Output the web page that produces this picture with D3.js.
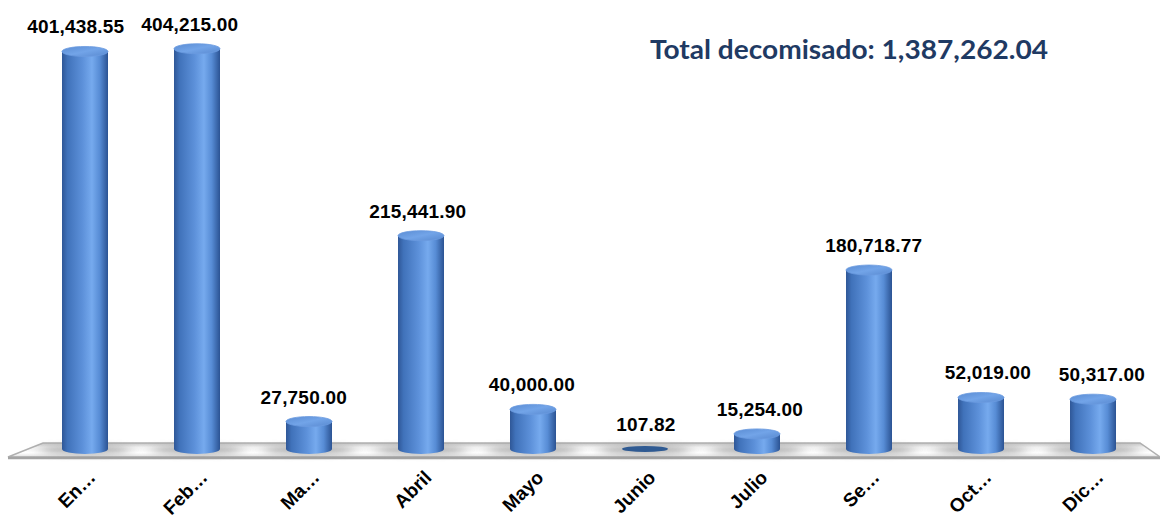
<!DOCTYPE html>
<html>
<head>
<meta charset="utf-8">
<script src="https://cdn.jsdelivr.net/npm/d3@7"></script>
<style>
  html, body { margin: 0; padding: 0; background: #fff; }
  svg { display: block; }
</style>
</head>
<body>
<script>
// datos del grafico
var meses = ["En\u2026", "Feb\u2026", "Ma\u2026", "Abril", "Mayo", "Junio", "Julio", "Se\u2026", "Oct\u2026", "Dic\u2026"];
var valores = [401438.55, 404215.00, 27750.00, 215441.90, 40000.00, 107.82, 15254.00, 180718.77, 52019.00, 50317.00];
var totalTexto = "Total decomisado: 1,387,262.04";

var width = 1160, height = 518;
var baseY = 449, capRy = 5, barRx = 23;

var svg = d3.select("body").append("svg").attr("width", width).attr("height", height);
var defs = svg.append("defs");

var x = d3.scalePoint().domain(meses).range([29, 1149]).padding(0.5);
var y = d3.scaleLinear().domain([0, 410000]).range([baseY, 43]);
var fmt = d3.format(",.2f");

// gradientes
var gBar = defs.append("linearGradient").attr("id", "gBar").attr("x1", 0).attr("x2", 1).attr("y1", 0).attr("y2", 0);
[["0%", "#2f5797"], ["12%", "#4072ba"], ["45%", "#5d91da"], ["65%", "#76aaee"], ["82%", "#578cd5"], ["100%", "#2b5393"]]
  .forEach(function(s) { gBar.append("stop").attr("offset", s[0]).attr("stop-color", s[1]); });

var gCap = defs.append("linearGradient").attr("id", "gCap").attr("x1", 0).attr("x2", 1).attr("y1", 0).attr("y2", 1);
[["0%", "#5a8cd3"], ["50%", "#72a4e8"], ["100%", "#5889d0"]]
  .forEach(function(s) { gCap.append("stop").attr("offset", s[0]).attr("stop-color", s[1]); });

var gFloor = defs.append("linearGradient").attr("id", "gFloor").attr("x1", 0).attr("x2", 0).attr("y1", 0).attr("y2", 1);
[["0%", "#c4c4c4"], ["30%", "#f2f2f2"], ["70%", "#ffffff"], ["100%", "#e0e0e0"]]
  .forEach(function(s) { gFloor.append("stop").attr("offset", s[0]).attr("stop-color", s[1]); });

defs.append("filter").attr("id", "blur").attr("x", "-50%").attr("y", "-200%").attr("width", "200%").attr("height", "500%")
  .append("feGaussianBlur").attr("stdDeviation", "7 3");

// piso 3D
svg.append("path")
  .attr("d", "M43,443 L1140,443 L1160,457 L8,457 Z")
  .style("fill", "url(#gFloor)").style("stroke", "#b0b0b0").style("stroke-width", 1.5);
svg.append("line").attr("x1", 8).attr("y1", 458).attr("x2", 1160).attr("y2", 458)
  .style("stroke", "#a4a4a4").style("stroke-width", 2.5);

// sombras
svg.selectAll(".sombra").data(valores).enter().append("ellipse")
  .attr("class", "sombra")
  .attr("cx", function(d, i) { return x(meses[i]); })
  .attr("cy", baseY + 1)
  .attr("rx", 46).attr("ry", 5)
  .style("fill", "#888").style("opacity", 0.6)
  .attr("filter", "url(#blur)");

// cilindros
var bars = svg.selectAll(".barra").data(valores).enter().append("g").attr("class", "barra");

bars.append("path")
  .attr("d", function(d, i) {
    var cx = x(meses[i]), top = y(d);
    if (baseY - top < 2) return "";
    return "M" + (cx - barRx) + "," + top +
      " L" + (cx - barRx) + "," + baseY +
      " A" + barRx + "," + capRy + " 0 0 0 " + (cx + barRx) + "," + baseY +
      " L" + (cx + barRx) + "," + top + " Z";
  })
  .style("fill", "url(#gBar)");

bars.append("ellipse")
  .attr("cx", function(d, i) { return x(meses[i]); })
  .attr("cy", function(d) { return y(d); })
  .attr("rx", barRx)
  .attr("ry", function(d) { return baseY - y(d) < 2 ? 3 : capRy; })
  .style("fill", function(d) { return baseY - y(d) < 2 ? "#2f5a92" : "url(#gCap)"; })
  .style("stroke", function(d) { return baseY - y(d) < 2 ? "none" : "#6b9be0"; })
  .style("stroke-width", 0.8);

// etiquetas de valor
svg.selectAll(".valor").data(valores).enter().append("text")
  .attr("class", "valor")
  .attr("x", function(d, i) { var cx = x(meses[i]); return cx + (cx - 600) * 0.018; })
  .attr("y", function(d) { return y(d) - capRy - 13; })
  .attr("text-anchor", "middle")
  .style("font-family", "'Liberation Sans', Arial, sans-serif")
  .style("font-weight", "bold").style("font-size", "19px").style("letter-spacing", "0.2px")
  .style("fill", "#000")
  .text(function(d) { return fmt(d); });

// etiquetas de categoria
svg.selectAll(".mes").data(meses).enter().append("text")
  .attr("class", "mes")
  .attr("transform", function(d) { return "translate(" + (x(d) + 2) + ",469) rotate(-45)"; })
  .attr("text-anchor", "end")
  .attr("dy", "0.72em")
  .style("font-family", "'Liberation Sans', Arial, sans-serif")
  .style("font-weight", "bold").style("font-size", "19px")
  .style("fill", "#000")
  .text(function(d) { return d; });

// total
svg.append("text")
  .attr("x", 650).attr("y", 59)
  .attr("textLength", 398).attr("lengthAdjust", "spacingAndGlyphs")
  .style("font-family", "Lato, 'Open Sans', sans-serif")
  .style("font-weight", "bold").style("font-size", "26px")
  .style("fill", "#1f3a63")
  .text(totalTexto);
</script>
</body>
</html>
